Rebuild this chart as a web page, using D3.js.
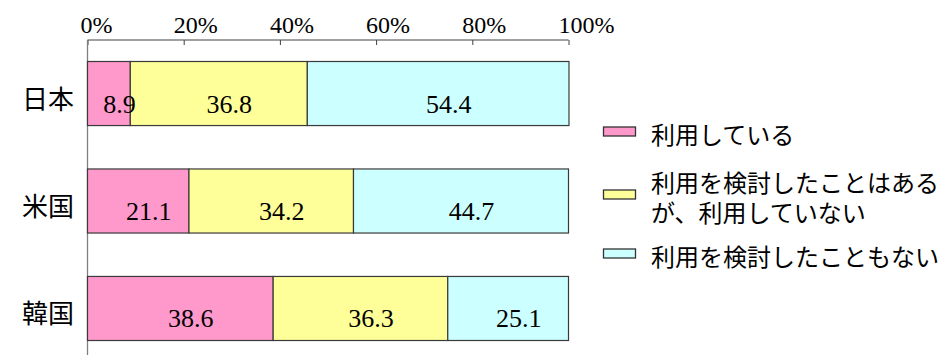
<!DOCTYPE html>
<html>
<head>
<meta charset="utf-8">
<script src="https://cdn.jsdelivr.net/npm/d3@7/dist/d3.min.js"></script>
<style>
  html, body { margin: 0; padding: 0; background: #fff; }
  svg { display: block; }
</style>
</head>
<body>
<svg id="chart" width="944" height="355"></svg>
<script>
// Survey results by country (percent)
const countries = ["日本", "米国", "韓国"];
const seriesNames = ["利用している", "利用を検討したことはあるが、利用していない", "利用を検討したこともない"];
const legendLines = [["利用している"], ["利用を検討したことはある", "が、利用していない"], ["利用を検討したこともない"]];
const usingNow = [8.9, 21.1, 38.6];
const consideredNotUsing = [36.8, 34.2, 36.3];
const neverConsidered = [54.4, 44.7, 25.1];
const tickValues = [0, 20, 40, 60, 80, 100];
const tickLabels = ["0%", "20%", "40%", "60%", "80%", "100%"];
const colors = ["#FF99CC", "#FFFF99", "#CCFFFF"];

const svg = d3.select("#chart");
const serif = "'Liberation Serif', 'Times New Roman', serif";
const cjk = "'Noto Sans CJK JP', 'Noto Sans', sans-serif";

const x = d3.scaleLinear().domain([0, 100]).range([87.5, 568.5]);
const y = d3.scaleBand().domain(countries).range([40, 362])
  .paddingInner(0.404).paddingOuter(0.2);

const rows = countries.map((c, i) => ({
  country: c,
  values: [usingNow[i], consideredNotUsing[i], neverConsidered[i]]
}));

// Top axis
const axis = d3.axisTop(x).tickValues(tickValues)
  .tickFormat((d, i) => tickLabels[i]).tickSize(-4).tickSizeOuter(0).tickPadding(7);
const gAxis = svg.append("g").attr("transform", "translate(0,40)").call(axis);
gAxis.select(".domain").attr("stroke", "#808080").attr("stroke-width", 1.3)
  .attr("d", `M${x(0)},0H${x(100)}`);
gAxis.selectAll(".tick line").attr("stroke", "#404040").attr("y1", 0).attr("y2", 5);
gAxis.selectAll(".tick text").attr("font-family", serif).attr("font-size", 24)
  .attr("fill", "#000").attr("dy", 0)
  .attr("text-anchor", "start").attr("x", d => d === 0 ? -7.5 : -10.5);

// Left category line
svg.append("line").attr("x1", x(0)).attr("x2", x(0)).attr("y1", 40).attr("y2", 355)
  .attr("stroke", "#808080").attr("stroke-width", 1.3);

// Stacked segments
const segments = [];
rows.forEach(row => {
  let acc = 0;
  row.values.forEach((v, k) => {
    segments.push({ country: row.country, k, v, x0: x(acc), x1: x(acc + v) });
    acc += v;
  });
});

svg.selectAll(".seg").data(segments).enter().append("rect")
  .attr("class", "seg")
  .attr("x", d => d.x0).attr("y", d => y(d.country))
  .attr("width", d => d.x1 - d.x0).attr("height", y.bandwidth())
  .attr("fill", d => colors[d.k]).attr("stroke", "#3a3a3a").attr("stroke-width", 1.2);

// Value labels
svg.selectAll(".val").data(segments).enter().append("text")
  .attr("class", "val")
  .attr("x", d => (d.x0 + d.x1) / 2 + 10.5)
  .attr("y", d => y(d.country) + y.bandwidth() / 2 + 19)
  .attr("text-anchor", "middle")
  .attr("font-family", serif).attr("font-size", 26).attr("fill", "#000")
  .text(d => d.v.toFixed(1));

// Category labels
svg.selectAll(".cat").data(countries).enter().append("text")
  .attr("x", 74).attr("y", d => y(d) + y.bandwidth() / 2 + 3.5)
  .attr("text-anchor", "end").attr("dominant-baseline", "central")
  .attr("font-family", cjk).attr("font-size", 26).attr("fill", "#000")
  .text(d => d);

// Legend
const legendCenters = [131.5, 194.5, 253.5];
seriesNames.forEach((name, k) => {
  const cy = legendCenters[k];
  svg.append("rect").attr("x", 603.5).attr("y", cy - 4.5).attr("width", 32).attr("height", 9)
    .attr("fill", colors[k]).attr("stroke", "#333").attr("stroke-width", 1.3);
  const lines = legendLines[k];
  lines.forEach((ln, j) => {
    svg.append("text").attr("font-family", cjk).attr("font-size", 24).attr("fill", "#000")
      .attr("x", 651)
      .attr("y", cy + 1.5 + (j - (lines.length - 1) / 2) * 30)
      .attr("dominant-baseline", "central")
      .text(ln);
  });
});
</script>
</body>
</html>
